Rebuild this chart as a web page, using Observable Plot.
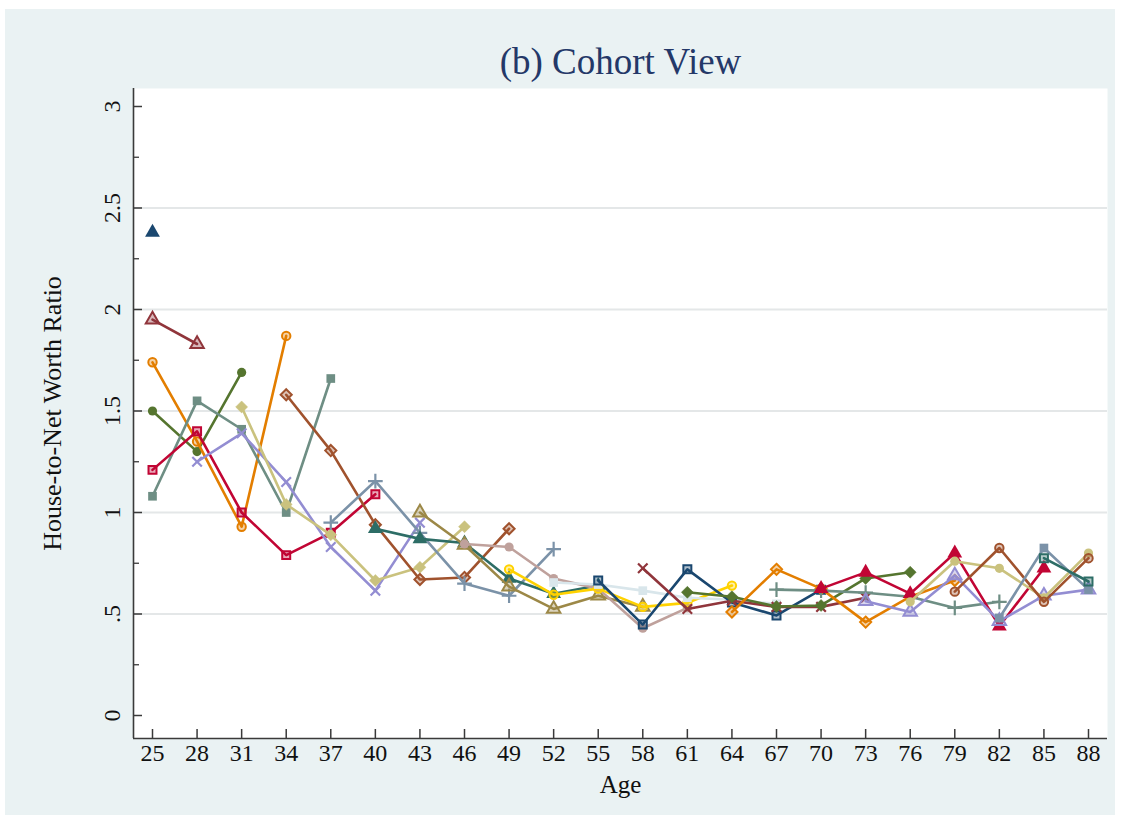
<!DOCTYPE html>
<html>
<head>
<meta charset="utf-8">
<script src="https://cdn.jsdelivr.net/npm/d3@7"></script>
<script src="https://cdn.jsdelivr.net/npm/@observablehq/plot@0.6"></script>
<style>
  html, body { margin: 0; padding: 0; background: #ffffff; }
  #wrap { position: relative; width: 1124px; height: 829px; overflow: hidden; }
  #bg { position: absolute; left: 5px; top: 9px; width: 1110px; height: 806px; background: #eaf2f3; }
  #chart { position: absolute; left: 0; top: 0; }
</style>
</head>
<body>
<div id="wrap"><div id="bg"></div><div id="chart"></div></div>
<script>
// ---- data ----
const titleText = "(b) Cohort View";
const xLabel = "Age";
const yLabel = "House-to-Net Worth Ratio";
const xTicks = [25, 28, 31, 34, 37, 40, 43, 46, 49, 52, 55, 58, 61, 64, 67, 70, 73, 76, 79, 82, 85, 88];
const yTicks = [0, 0.5, 1, 1.5, 2, 2.5, 3];
const yMinorTicks = [0.25, 0.75, 1.25, 1.75, 2.25, 2.75];
const yGrid = [0.5, 1, 1.5, 2, 2.5];

// first age at which each cohort is observed (cohorts observed every 3 years)
const startAge = [25, 25, 25, 25, 25, 25, 28, 31, 34, 37, 40, 43, 46, 49, 52, 55, 58, 61, 64, 67, 70, 73, 76, 79, 82, 85];
// house-to-net-worth ratio at consecutive observed ages (step 3 years)
const cohortValues = [
  [2.38],
  [1.95, 1.83],
  [1.50, 1.30, 1.69],
  [1.74, 1.35, 0.93, 1.87],
  [1.08, 1.55, 1.41, 1.00, 1.66],
  [1.21, 1.40, 1.00, 0.79, 0.90, 1.09],
  [1.25, 1.39, 1.15, 0.83, 0.615, 0.95],
  [1.52, 1.04, 0.89, 0.665, 0.73, 0.93],
  [1.58, 1.305, 0.94, 0.67, 0.68, 0.92],
  [0.95, 1.155, 0.90, 0.65, 0.59, 0.82],
  [0.92, 0.87, 0.85, 0.675, 0.60, 0.64],
  [1.00, 0.84, 0.635, 0.525, 0.59, 0.535],
  [0.845, 0.83, 0.675, 0.625, 0.43, 0.53],
  [0.72, 0.595, 0.625, 0.535, 0.555, 0.64],
  [0.655, 0.645, 0.615, 0.58, 0.57, 0.55],
  [0.665, 0.448, 0.72, 0.557, 0.493, 0.62],
  [0.725, 0.525, 0.565, 0.535, 0.535, 0.58],
  [0.607, 0.585, 0.537, 0.542, 0.675, 0.706],
  [0.51, 0.72, 0.625, 0.46, 0.585, 0.665],
  [0.62, 0.615, 0.605, 0.585, 0.53, 0.56],
  [0.625, 0.705, 0.60, 0.80, 0.44, 0.725],
  [0.563, 0.51, 0.69, 0.465, 0.59, 0.62],
  [0.56, 0.76, 0.725, 0.58, 0.80],
  [0.61, 0.825, 0.56, 0.775],
  [0.48, 0.825, 0.62],
  [0.775, 0.66]
];
// Stata s2color palette
const palette = ["#1a476f", "#90353b", "#55752f", "#e37e00", "#6e8e84", "#c10534", "#938dd2",
  "#cac27e", "#a0522d", "#7b92a8", "#2d6d66", "#9c8847", "#bfa19c", "#ffd200", "#d9e6eb"];
// marker cycle
const markerCycle = ["triangle", "triangleH", "circle", "circleH", "square", "squareH", "x", "diamond", "diamondH", "plus"];

// ---- build table ----
const rows = [];
cohortValues.forEach((vals, i) => {
  vals.forEach((v, j) => rows.push({cohort: i, age: startAge[i] + 3 * j, value: v}));
});

// ---- layout ----
const W = 1124, H = 829;
const mL = 133, mR = 17, mT = 88, mB = 91;
const pxPerYear = 936 / 63;   // 25 -> 152px, 88 -> 1088px
const pxPerUnit = 203;        // 0 -> 715px, 3 -> 106px
const xDomain = [25 - (152 - mL) / pxPerYear, 88 + (W - mR - 1088) / pxPerYear];
const yDomain = [(715 - (H - mB)) / pxPerUnit, (715 - mT) / pxPerUnit];

const serif = "'Liberation Serif', 'Times New Roman', serif";
const fmtY = d => d === 0 ? "0" : String(d).replace(/^0\./, ".");

function markerFor(i, data, color) {
  const m = markerCycle[i % markerCycle.length];
  const base = {x: "age", y: "value"};
  switch (m) {
    case "triangle": return Plot.dot(data, {...base, symbol: "triangle", r: 5.5, fill: color, stroke: "none"});
    case "triangleH": return Plot.dot(data, {...base, symbol: "triangle", r: 5, fill: color, fillOpacity: 0.35, stroke: color, strokeWidth: 2});
    case "circle": return Plot.dot(data, {...base, symbol: "circle", r: 4.6, fill: color, stroke: "none"});
    case "circleH": return Plot.dot(data, {...base, symbol: "circle", r: 4.2, fill: color, fillOpacity: 0.35, stroke: color, strokeWidth: 2});
    case "square": return Plot.dot(data, {...base, symbol: "square", r: 4.9, fill: color, stroke: "none"});
    case "squareH": return Plot.dot(data, {...base, symbol: "square", r: 4.5, fill: color, fillOpacity: 0.35, stroke: color, strokeWidth: 2});
    case "x": return Plot.dot(data, {...base, symbol: "times", r: 4.4, fill: "none", stroke: color, strokeWidth: 2.2});
    case "diamond": return Plot.dot(data, {...base, symbol: "diamond2", r: 5.4, fill: color, stroke: color, strokeWidth: 0.5});
    case "diamondH": return Plot.dot(data, {...base, symbol: "diamond2", r: 5, fill: color, fillOpacity: 0.35, stroke: color, strokeWidth: 2});
    case "plus": return Plot.dot(data, {...base, symbol: "plus", r: 4.8, fill: "none", stroke: color, strokeWidth: 2.2});
  }
}

const seriesMarks = [];
cohortValues.forEach((vals, i) => {
  const data = rows.filter(r => r.cohort === i);
  const color = palette[i % palette.length];
  if (data.length > 1) {
    seriesMarks.push(Plot.line(data, {x: "age", y: "value", stroke: color, strokeWidth: 2.6, strokeLinejoin: "round"}));
  }
  seriesMarks.push(markerFor(i, data, color));
});

const axisColor = "#3a3a3a";
const chart = Plot.plot({
  width: W,
  height: H,
  marginLeft: mL,
  marginRight: mR,
  marginTop: mT,
  marginBottom: mB,
  style: {background: "transparent", overflow: "visible", fontFamily: serif},
  x: {domain: xDomain, axis: null},
  y: {domain: yDomain, axis: null},
  marks: [
    Plot.frame({fill: "white", stroke: "none"}),
    Plot.ruleY(yGrid, {y: d => d, stroke: "#e4e7e8", strokeWidth: 1.8}),
    ...seriesMarks,
    // axis lines
    Plot.ruleX([xDomain[0]], {y1: yDomain[0], y2: yDomain[1], stroke: axisColor, strokeWidth: 1.6}),
    Plot.ruleY([yDomain[0]], {x1: xDomain[0], x2: xDomain[1], stroke: axisColor, strokeWidth: 1.6}),
    // ticks (pointing inward)
    Plot.ruleY(yTicks, {y: d => d, x1: xDomain[0], x2: xDomain[0] + 9 / pxPerYear, stroke: axisColor, strokeWidth: 1.5}),
    Plot.ruleY(yMinorTicks, {y: d => d, x1: xDomain[0], x2: xDomain[0] + 6 / pxPerYear, stroke: axisColor, strokeWidth: 1.3}),
    Plot.ruleX(xTicks, {x: d => d, y1: yDomain[0], y2: yDomain[0] + 9 / pxPerUnit, stroke: axisColor, strokeWidth: 1.5}),
    // tick labels
    Plot.text(yTicks, {y: d => d, frameAnchor: "left", dx: -21, rotate: -90, textAnchor: "middle", lineAnchor: "middle",
      text: fmtY, fontSize: 24, fill: "#111", fontFamily: serif}),
    Plot.text(xTicks, {x: d => d, frameAnchor: "bottom", dy: 15, textAnchor: "middle", lineAnchor: "middle",
      text: d => String(d), fontSize: 24, fill: "#111", fontFamily: serif}),
    // axis titles and title
    Plot.text([yLabel], {frameAnchor: "left", dx: -81, rotate: -90, textAnchor: "middle", lineAnchor: "middle",
      text: d => d, fontSize: 26, fill: "#111", fontFamily: serif}),
    Plot.text([xLabel], {frameAnchor: "bottom", dy: 46, textAnchor: "middle", lineAnchor: "middle",
      text: d => d, fontSize: 25, fill: "#111", fontFamily: serif}),
    Plot.text([titleText], {frameAnchor: "top", dy: -26, textAnchor: "middle", lineAnchor: "middle",
      text: d => d, fontSize: 37, fill: "#243868", fontFamily: serif})
  ]
});
document.getElementById("chart").appendChild(chart);
</script>
</body>
</html>
